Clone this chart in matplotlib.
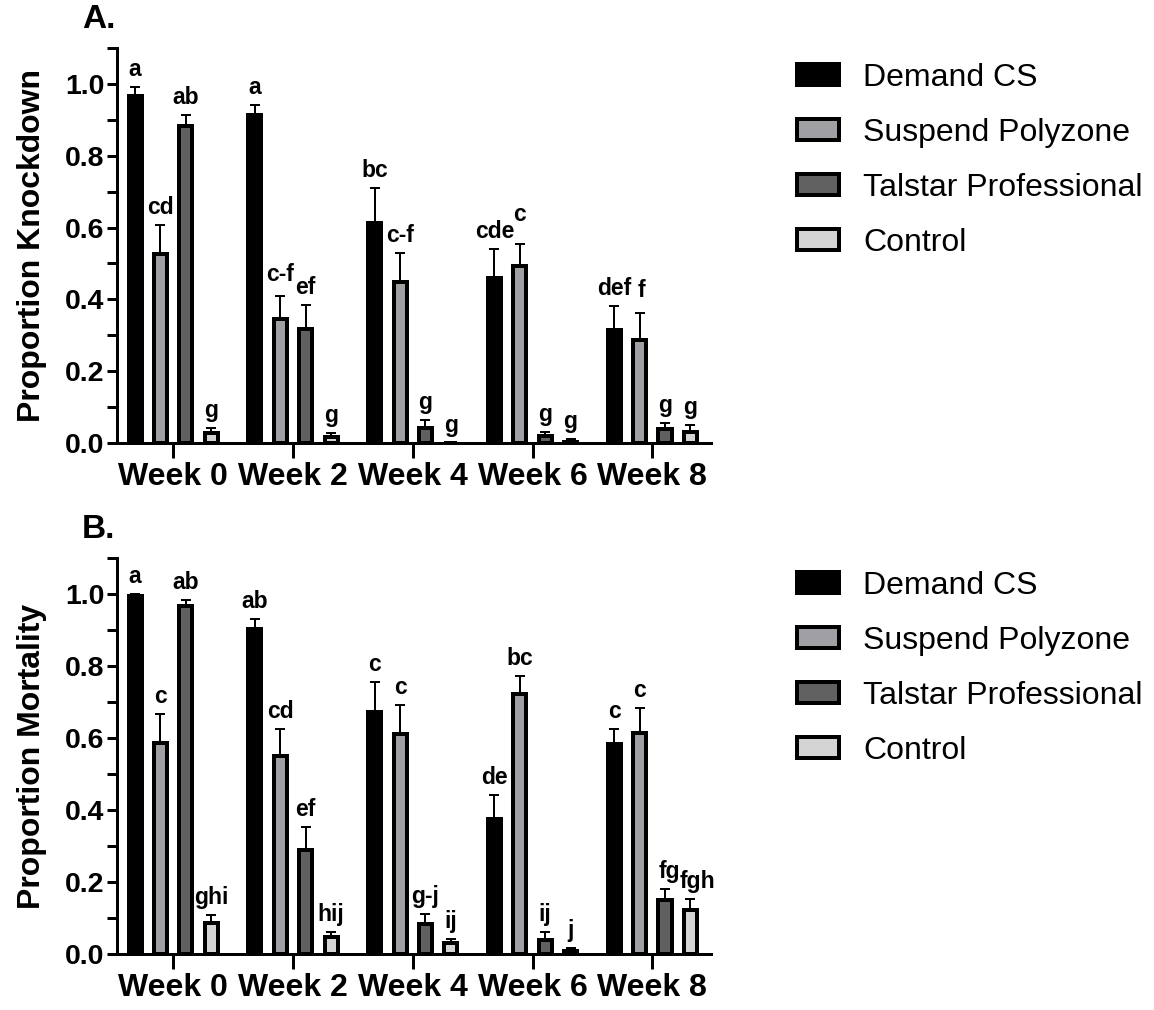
import matplotlib
matplotlib.use("Agg")
import matplotlib.pyplot as plt
from matplotlib.patches import Patch
import numpy as np

weeks = ["Week 0", "Week 2", "Week 4", "Week 6", "Week 8"]
treatments = ["Demand CS", "Suspend Polyzone", "Talstar Professional", "Control"]
colors = ["#000000", "#a0a0a4", "#606060", "#d4d4d4"]

# Panel A: knockdown (mean, SE) per treatment across weeks
kd_demand = [0.966, 0.914, 0.614, 0.460, 0.316]
kd_demand_se = [0.025, 0.027, 0.097, 0.079, 0.065]
kd_suspend = [0.527, 0.344, 0.448, 0.492, 0.288]
kd_suspend_se = [0.080, 0.065, 0.080, 0.061, 0.074]
kd_talstar = [0.883, 0.318, 0.043, 0.020, 0.038]
kd_talstar_se = [0.030, 0.067, 0.021, 0.012, 0.017]
kd_control = [0.027, 0.017, 0.000, 0.002, 0.032]
kd_control_se = [0.014, 0.010, 0.000, 0.008, 0.018]
kd_letters = [["a", "a", "bc", "cde", "def"],
              ["cd", "c-f", "c-f", "c", "f"],
              ["ab", "ef", "g", "g", "g"],
              ["g", "g", "g", "g", "g"]]

# Panel B: mortality
mo_demand = [0.995, 0.903, 0.672, 0.375, 0.584]
mo_demand_se = [0.006, 0.028, 0.083, 0.066, 0.041]
mo_suspend = [0.585, 0.550, 0.611, 0.721, 0.615]
mo_suspend_se = [0.082, 0.075, 0.080, 0.051, 0.068]
mo_talstar = [0.968, 0.289, 0.084, 0.039, 0.151]
mo_talstar_se = [0.016, 0.063, 0.028, 0.022, 0.030]
mo_control = [0.086, 0.046, 0.030, 0.007, 0.123]
mo_control_se = [0.023, 0.014, 0.011, 0.009, 0.030]
mo_letters = [["a", "ab", "c", "de", "c"],
              ["c", "cd", "c", "bc", "c"],
              ["ab", "ef", "g-j", "ij", "fg"],
              ["ghi", "hij", "ij", "j", "fgh"]]

# label nudges in pixels (panel, treatment index, week index) -> (dx, dy)
nudges = {("A", 1, 3): (0, 12), ("A", 1, 4): (2, 5), ("A", 1, 1): (0, 4),
          ("B", 2, 4): (4, 0), ("B", 3, 4): (7, 0)}

W, H = 1154, 1010
fig = plt.figure(figsize=(W / 100, H / 100), dpi=100)
plt.rcParams['font.family'] = ['Liberation Sans', 'DejaVu Sans']

px = 72 / 100.0  # points per pixel


def draw_panel(ax, means, ses, letters, ylabel, panel):
    x = np.arange(len(weeks))
    step = 0.212
    width = 0.109
    ypp = 1.1 / 396.0   # data units per pixel
    xpp = 1.0 / 119.5
    for i in range(4):
        xi = x + (i - 1.5) * step
        m = np.array(means[i])
        s = np.array(ses[i])
        ax.errorbar(xi, m, yerr=[np.zeros_like(s), s], fmt='none', ecolor='black',
                    elinewidth=2 * px, capsize=3.6, capthick=2 * px, zorder=1)
        ax.bar(xi, m, width=width, color=colors[i], edgecolor='black',
               linewidth=4 * px, zorder=2)
        for j in range(len(weeks)):
            dx, dy = nudges.get((panel[0], i, j), (0, 0))
            ax.text(xi[j] + dx * xpp, m[j] + s[j] + (6 + dy) * ypp, letters[i][j],
                    ha='center', va='bottom', fontsize=16.5, fontweight='bold', zorder=3)
    ax.set_xlim(-0.469, 4.49)
    ax.set_ylim(0, 1.1)
    ax.set_yticks([0, 0.2, 0.4, 0.6, 0.8, 1.0])
    ax.set_yticklabels(["0.0", "0.2", "0.4", "0.6", "0.8", "1.0"])
    ax.set_yticks(np.arange(0.1, 1.15, 0.2), minor=True)
    ax.set_xticks(x)
    ax.set_xticklabels(weeks)
    for sp in ['top', 'right']:
        ax.spines[sp].set_visible(False)
    for sp in ['left', 'bottom']:
        ax.spines[sp].set_linewidth(3 * px)
    ax.tick_params(axis='y', which='both', length=10 * px, width=3 * px, pad=2)
    ax.tick_params(axis='y', which='major', labelsize=20.5)
    ax.tick_params(axis='x', length=15 * px, width=3 * px, labelsize=23, pad=3)
    for lab in ax.get_xticklabels() + ax.get_yticklabels():
        lab.set_fontweight('bold')
    ax.set_ylabel(ylabel, fontsize=23, fontweight='bold', labelpad=13)
    ax.text(-0.059, 1.0 + 13 / 396.0, panel, transform=ax.transAxes, fontsize=24,
            fontweight='bold', ha='left', va='bottom')


axA = fig.add_axes([117 / W, 1 - 443 / H, (711 - 117) / W, (443 - 48) / H])
axB = fig.add_axes([117 / W, 1 - 954 / H, (711 - 117) / W, (954 - 558) / H])

draw_panel(axA, [kd_demand, kd_suspend, kd_talstar, kd_control],
           [kd_demand_se, kd_suspend_se, kd_talstar_se, kd_control_se],
           kd_letters, "Proportion Knockdown", "A.")
draw_panel(axB, [mo_demand, mo_suspend, mo_talstar, mo_control],
           [mo_demand_se, mo_suspend_se, mo_talstar_se, mo_control_se],
           mo_letters, "Proportion Mortality", "B.")

handles = [Patch(facecolor=c, edgecolor='black', linewidth=4 * px) for c in colors]
for ytop in [63, 571]:
    fig.legend(handles, treatments, loc='upper left',
               bbox_to_anchor=(797 / W, 1 - ytop / H), frameon=False, fontsize=23,
               handlelength=1.3, handleheight=0.62, handletextpad=0.78,
               labelspacing=0.78, borderpad=0, borderaxespad=0)

fig.savefig("out.png", dpi=100)
